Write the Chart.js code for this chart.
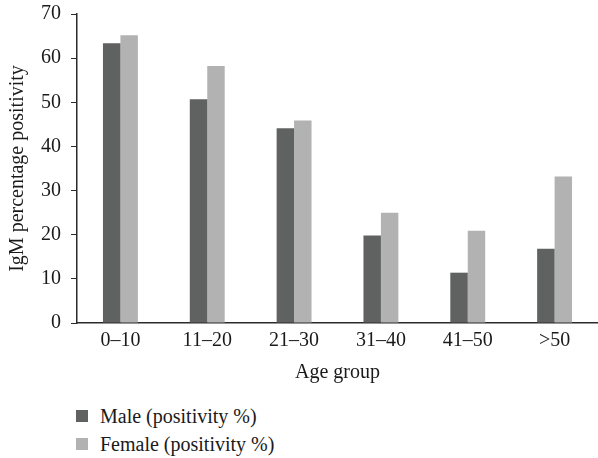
<!DOCTYPE html>
<html lang="en">
<head>
<meta charset="UTF-8">
<title>IgM positivity</title>
<script src="https://cdn.jsdelivr.net/npm/chart.js"></script>
<style>
    body { margin: 0; background: #fff; font-family: "Liberation Serif", serif; }
    #caixa { width: 598px; height: 458px; position: relative; overflow: hidden; }
    #grafico { position: absolute; left: 0; top: -8px; }
    #legenda { position: absolute; left: 76px; top: 402px; font-size: 20px; color: #1a1a1a; }
    #legenda div { height: 28px; line-height: 28px; white-space: nowrap; }
    #legenda span { display: inline-block; width: 12px; height: 12px; margin-right: 12px; vertical-align: 1px; }
</style>
</head>
<body>
<div id="caixa">
    <canvas id="grafico" width="598" height="400"></canvas>
    <div id="legenda"></div>
</div>
<script>
    // dados
    const faixas = ['0–10', '11–20', '21–30', '31–40', '41–50', '>50'];
    const masculino = [63.4, 50.7, 44.1, 19.8, 11.4, 16.8];
    const feminino = [65.2, 58.2, 45.9, 25.0, 20.9, 33.2];
    const nomesSeries = ['Male (positivity %)', 'Female (positivity %)'];
    const cores = ['#606261', '#b2b2b2'];
    const tituloX = 'Age group';
    const tituloY = 'IgM percentage positivity';

    const fonte = { family: '"Liberation Serif", serif', size: 20, lineHeight: 1.2 };
    const corTexto = '#1a1a1a';

    const dados = {
        labels: faixas,
        datasets: [
            { label: nomesSeries[0], data: masculino, backgroundColor: cores[0] },
            { label: nomesSeries[1], data: feminino, backgroundColor: cores[1] }
        ]
    };

    const config = {
        type: 'bar',
        data: dados,
        options: {
            responsive: false,
            animation: false,
            layout: { padding: { top: 1, right: 0, left: 0, bottom: 0 } },
            datasets: { bar: { barPercentage: 1, categoryPercentage: 0.402 } },
            plugins: { legend: { display: false }, tooltip: { enabled: false } },
            scales: {
                x: {
                    grid: { display: true, drawOnChartArea: false, drawTicks: false },
                    border: { display: true, color: '#2a2a2a', width: 1.5 },
                    ticks: { color: corTexto, font: fonte, padding: 6, maxRotation: 0 },
                    title: { display: true, text: tituloX, color: corTexto, font: fonte, padding: { top: 2, bottom: 7 } }
                },
                y: {
                    min: 0, max: 70,
                    afterFit: function (escala) { escala.width = 77; },
                    grid: { drawOnChartArea: false, drawTicks: true, tickLength: 6, color: '#2a2a2a' },
                    border: { display: true, color: '#2a2a2a', width: 1.5 },
                    ticks: { stepSize: 10, color: corTexto, font: fonte, padding: 10 },
                    title: { display: true, text: tituloY, color: corTexto, font: fonte, padding: { top: 6, bottom: 0 } }
                }
            }
        }
    };

    let meuGrafico = new Chart(document.getElementById('grafico'), config);

    // legenda em html, empilhada
    const legenda = document.getElementById('legenda');
    for (let i = 0; i < nomesSeries.length; i++) {
        const linha = document.createElement('div');
        linha.innerHTML = `<span style="background:${cores[i]}"></span>${nomesSeries[i]}`;
        legenda.appendChild(linha);
    }
</script>
</body>
</html>
